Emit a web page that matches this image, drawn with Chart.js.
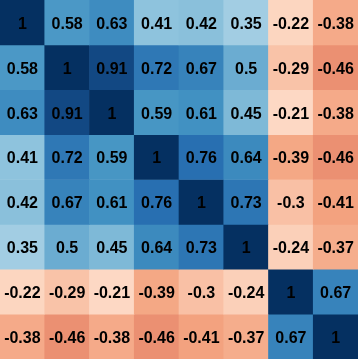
<!DOCTYPE html>
<html>
<head>
<meta charset="utf-8">
<script src="https://cdn.jsdelivr.net/npm/chart.js@4"></script>
<style>
  html, body { margin: 0; padding: 0; background: #fff; }
  #wrap { width: 358px; height: 359px; position: relative; }
</style>
</head>
<body>
<div id="wrap"><canvas id="heatmap"></canvas></div>
<script>
(function(){
  // columnas / filas de la matriz
  const variables = ['v1', 'v2', 'v3', 'v4', 'v5', 'v6', 'v7', 'v8'];

  // correlaciones por fila (de arriba hacia abajo)
  const fila1 = [1, 0.58, 0.63, 0.41, 0.42, 0.35, -0.22, -0.38];
  const fila2 = [0.58, 1, 0.91, 0.72, 0.67, 0.5, -0.29, -0.46];
  const fila3 = [0.63, 0.91, 1, 0.59, 0.61, 0.45, -0.21, -0.38];
  const fila4 = [0.41, 0.72, 0.59, 1, 0.76, 0.64, -0.39, -0.46];
  const fila5 = [0.42, 0.67, 0.61, 0.76, 1, 0.73, -0.3, -0.41];
  const fila6 = [0.35, 0.5, 0.45, 0.64, 0.73, 1, -0.24, -0.37];
  const fila7 = [-0.22, -0.29, -0.21, -0.39, -0.3, -0.24, 1, 0.67];
  const fila8 = [-0.38, -0.46, -0.38, -0.46, -0.41, -0.37, 0.67, 1];

  const filas = [fila1, fila2, fila3, fila4, fila5, fila6, fila7, fila8];

  // paleta RdBu (rojo -> azul)
  const paleta = ['#67001f', '#b2182b', '#d6604d', '#f4a582', '#fddbc7', '#f7f7f7',
                  '#d1e5f0', '#92c5de', '#4393c3', '#2166ac', '#053061'];

  function hexRgb(h){
    return [parseInt(h.slice(1,3),16), parseInt(h.slice(3,5),16), parseInt(h.slice(5,7),16)];
  }

  function colorValor(v){
    let t = (v + 1) / 2;
    t = Math.max(0, Math.min(1, t));
    const pos = t * (paleta.length - 1);
    const i = Math.min(Math.floor(pos), paleta.length - 2);
    const f = pos - i;
    const a = hexRgb(paleta[i]), b = hexRgb(paleta[i+1]);
    const c = a.map((x, k) => Math.round(x + (b[k] - x) * f));
    return `rgb(${c[0]},${c[1]},${c[2]})`;
  }

  // dibuja el valor en cada celda
  const textoCeldas = {
    id: 'textoCeldas',
    afterDatasetsDraw(chart){
      const ctx = chart.ctx;
      ctx.save();
      ctx.font = 'bold 16px "Liberation Sans", Arial, sans-serif';
      ctx.fillStyle = '#000';
      ctx.textAlign = 'center';
      ctx.textBaseline = 'middle';
      chart.data.datasets.forEach((ds, d) => {
        chart.getDatasetMeta(d).data.forEach((el, j) => {
          const y = (el.y + el.base) / 2;
          ctx.fillText(String(ds.valores[j]), el.x, y + 2);
        });
      });
      ctx.restore();
    }
  };

  const ctx = document.getElementById('heatmap');

  new Chart(ctx, {
    type: 'bar',
    data: {
      labels: variables,
      datasets: filas.map((fila, i) => ({
        label: variables[i],
        data: fila.map(() => 1),
        valores: fila,
        backgroundColor: fila.map(v => colorValor(v)),
        borderWidth: 0,
        barPercentage: 1,
        categoryPercentage: 1
      }))
    },
    options: {
      responsive: true,
      maintainAspectRatio: false,
      animation: false,
      layout: { padding: 0 },
      scales: {
        x: { stacked: true, display: false, offset: true },
        y: { stacked: true, display: false, reverse: true, min: 0, max: 8 }
      },
      plugins: {
        legend: { display: false },
        tooltip: { enabled: false }
      }
    },
    plugins: [textoCeldas]
  });
})();
</script>
</body>
</html>
